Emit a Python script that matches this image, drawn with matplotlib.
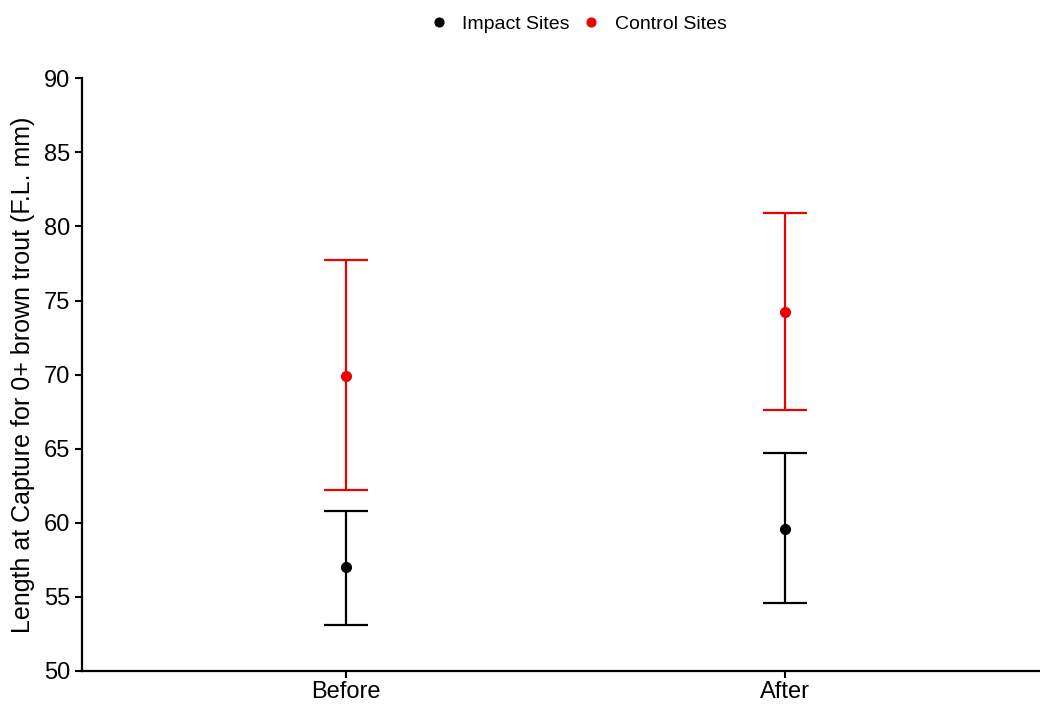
import matplotlib.pyplot as plt
import numpy as np

plt.rcParams['font.family'] = ['Liberation Sans', 'DejaVu Sans']

periods = ["Before", "After"]
impact_mean = [57.0, 59.6]
impact_low = [53.1, 54.6]
impact_high = [60.8, 64.7]
control_mean = [69.9, 74.2]
control_low = [62.2, 67.6]
control_high = [77.7, 80.9]

fig = plt.figure(figsize=(10.4, 7.04), dpi=100)
ax = fig.add_axes([0.0788, 0.0469, 0.9212, 0.842])

x = np.arange(1, len(periods) + 1)

def draw(mean, low, high, col, lab):
    mean = np.array(mean)
    err = [mean - np.array(low), np.array(high) - mean]
    ax.errorbar(x, mean, yerr=err, fmt='o', color=col, ms=7, elinewidth=1.6,
                capsize=16, capthick=1.6, label=lab, clip_on=False)

draw(impact_mean, impact_low, impact_high, 'black', 'Impact Sites')
draw(control_mean, control_low, control_high, '#ee0000', 'Control Sites')

ax.set_xlim(0.4, 2.58)
ax.set_ylim(50, 90)
ax.set_yticks(np.arange(50, 91, 5))
ax.set_xticks(x)
ax.set_xticklabels(periods)
ax.tick_params(labelsize=17, width=1.5, length=5, color='black')
ax.tick_params(axis='x', labelsize=17, pad=2)
ax.set_ylabel("Length at Capture for 0+ brown trout (F.L. mm)", fontsize=18, labelpad=6)

for s in ['top', 'right']:
    ax.spines[s].set_visible(False)
for s in ['left', 'bottom']:
    ax.spines[s].set_linewidth(1.6)

h, l = ax.get_legend_handles_labels()
h = [hh[0] for hh in h]
fig.legend(h, l, loc='upper center', bbox_to_anchor=(0.551, 1.003), ncol=2, frameon=False,
           fontsize=14, handletextpad=0.2, columnspacing=0.1, markerscale=0.9)

fig.savefig('out.png', dpi=100)
